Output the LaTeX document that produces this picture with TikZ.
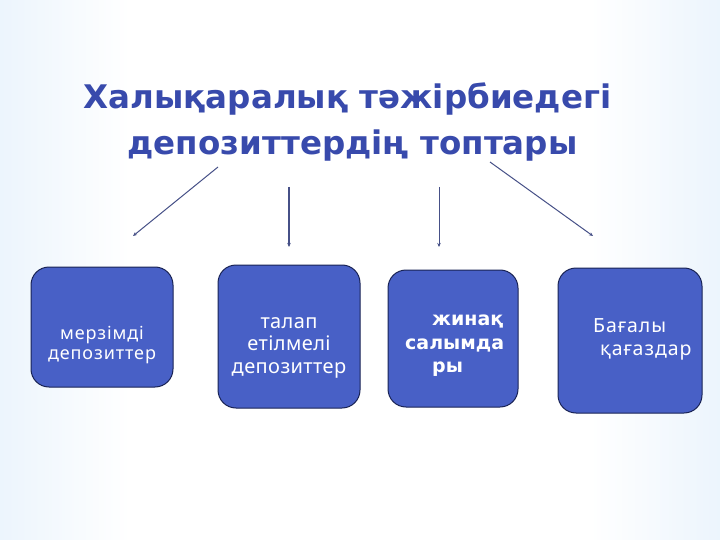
\documentclass[tikz,border=0pt]{standalone}
\usepackage{fontspec}
\setmainfont{Noto Sans}
\newfontfamily\titlefont{DejaVu Sans}
\usetikzlibrary{arrows.meta}
\tikzset{>={Stealth[length=4pt,width=3.5pt]}}

\definecolor{bgblue}{RGB}{178,213,245}
\definecolor{boxblue}{RGB}{72,96,198}
\definecolor{boxedge}{RGB}{25,35,85}
\definecolor{titleblue}{RGB}{56,74,172}
\definecolor{arrowgray}{RGB}{70,80,135}
\pgfdeclarehorizontalshading{slidebg}{100bp}{color(0bp)=(bgblue); color(14bp)=(bgblue!55!white); color(34bp)=(white); color(66bp)=(white); color(86bp)=(bgblue!55!white); color(100bp)=(bgblue)}

\begin{document}
\begin{tikzpicture}[x=1pt, y=-1pt,
  group/.style={draw=boxedge, line width=1pt, fill=boxblue, rounded corners=18pt, inner sep=0pt},
  grouptext/.style={text=white, inner sep=0pt, align=center},
  heading/.style={text=titleblue, font=\titlefont\bfseries\fontsize{32.5}{40}\selectfont, anchor=base},
  link/.style={->, arrowgray, line width=1pt}
]

% Slide background
\useasboundingbox (0,0) rectangle (720,540);
\shade[shading=slidebg] (0,0) rectangle (720,540);

% Title
\node[heading] (title1) at (347.5,109) {Халықаралық тәжірбиедегі};
\node[heading] (title2) at (352.5,155) {депозиттердің топтары};

% Groups
\node[group, minimum width=142pt, minimum height=120pt] (g1) at (102,327) {};
\node[group, minimum width=142pt, minimum height=143pt] (g2) at (289,336.5) {};
\node[group, minimum width=130pt, minimum height=137pt] (g3) at (453,338.5) {};
\node[group, minimum width=144pt, minimum height=145pt] (g4) at (630,340.5) {};

\node[grouptext, font=\addfontfeature{LetterSpace=5}\fontsize{18}{19.5}\selectfont] (t1) at (102,345) {мерзімді\\депозиттер};
\node[grouptext, font=\addfontfeature{LetterSpace=2}\fontsize{20}{22.5}\selectfont] (t2) at (289,347.5) {талап\\етілмелі\\депозиттер};
\node[grouptext, font=\titlefont\bfseries\fontsize{19}{23.5}\selectfont, align=left, anchor=west] (t3) at (405,346) {\hspace*{27pt}жинақ\\салымда\\\hspace*{27pt}ры};
\node[grouptext, font=\addfontfeature{LetterSpace=5}\fontsize{19.5}{23}\selectfont, align=left, anchor=west] (t4) at (593,339) {Бағалы\\\hspace*{7pt}қағаздар};

% Arrow ends
\coordinate (s1) at (218,167);
\coordinate (e1) at (133,236);
\coordinate (s2) at (289,187);
\coordinate (e2) at (289,247);
\coordinate (s3) at (439,187);
\coordinate (e3) at (439,247);
\coordinate (s4) at (490,162);
\coordinate (e4) at (593,236);

\draw[link] (s1) -- (e1);
\draw[link, line width=1.4pt] (s2) -- (e2);
\draw[link, line width=0.8pt] (s3) -- (e3);
\draw[link] (s4) -- (e4);

\end{tikzpicture}
\end{document}
